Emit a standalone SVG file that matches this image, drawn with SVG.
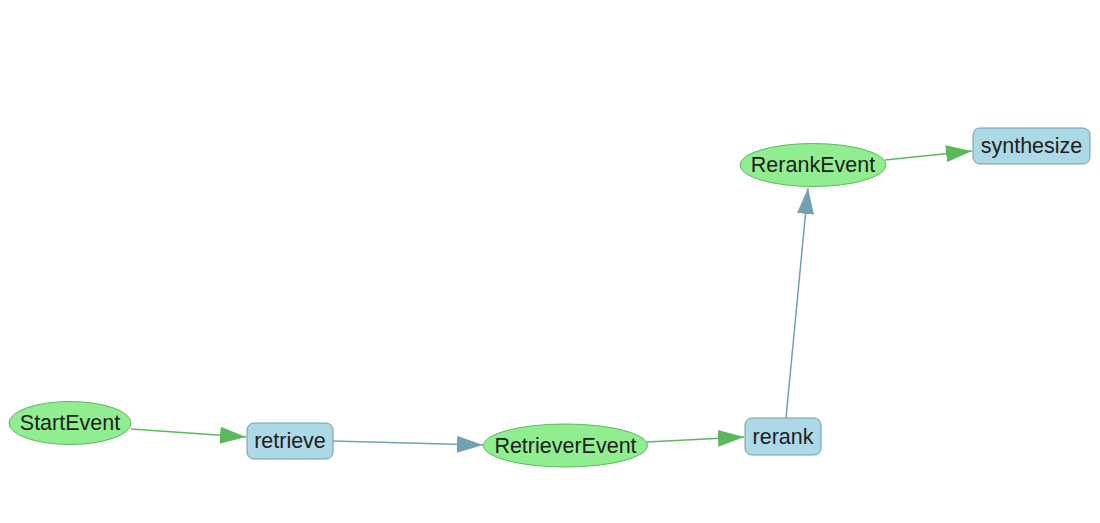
<svg xmlns="http://www.w3.org/2000/svg" width="1100" height="523" viewBox="0 0 1100 523">
<style>
.ev{fill:#90ee90;stroke:#5cb85c;stroke-width:1}
.st{fill:#add8e6;stroke:#6f9cab;stroke-width:1}
text{font-family:"Liberation Sans",Arial,sans-serif;font-size:21.5px;fill:#1e1e1e;text-anchor:middle;dominant-baseline:central}
.eg{stroke:#5cb85c;stroke-width:1.5;fill:none}
.eb{stroke:#72a2b2;stroke-width:1.5;fill:none}
</style>
<defs>
<marker id="ag" viewBox="0 0 10 10" refX="10" refY="5" markerWidth="26" markerHeight="17" markerUnits="userSpaceOnUse" orient="auto" preserveAspectRatio="none"><path d="M0,0 L10,5 L0,10 z" fill="#5cb85c"/></marker>
<marker id="ab" viewBox="0 0 10 10" refX="10" refY="5" markerWidth="26" markerHeight="17" markerUnits="userSpaceOnUse" orient="auto" preserveAspectRatio="none"><path d="M0,0 L10,5 L0,10 z" fill="#72a2b2"/></marker>
</defs>
<rect width="1100" height="523" fill="#fff"/>
<g id="connectors">
<line class="eg" x1="131" y1="429" x2="246" y2="437" marker-end="url(#ag)"/>
<line class="eb" x1="333" y1="441" x2="483" y2="445" marker-end="url(#ab)"/>
<line class="eg" x1="647" y1="442" x2="744" y2="437" marker-end="url(#ag)"/>
<line class="eb" x1="786" y1="418" x2="808" y2="188" marker-end="url(#ab)"/>
<line class="eg" x1="885" y1="160" x2="972" y2="151" marker-end="url(#ag)"/>
</g>
<g id="StartEvent"><ellipse class="ev" cx="70" cy="423" rx="61" ry="21.5"/><text x="70" y="423">StartEvent</text></g>
<g id="retrieve"><rect class="st" x="247" y="423" width="86" height="36" rx="7"/><text x="290" y="441">retrieve</text></g>
<g id="RetrieverEvent"><ellipse class="ev" cx="565.5" cy="445.5" rx="82" ry="21.5"/><text x="565.5" y="445.5">RetrieverEvent</text></g>
<g id="rerank"><rect class="st" x="745" y="418" width="76" height="37" rx="7"/><text x="783" y="436.5">rerank</text></g>
<g id="RerankEvent"><ellipse class="ev" cx="813" cy="165" rx="73" ry="21.5"/><text x="813" y="165">RerankEvent</text></g>
<g id="synthesize"><rect class="st" x="973" y="128" width="117" height="36" rx="7"/><text x="1031.5" y="146">synthesize</text></g>
</svg>
